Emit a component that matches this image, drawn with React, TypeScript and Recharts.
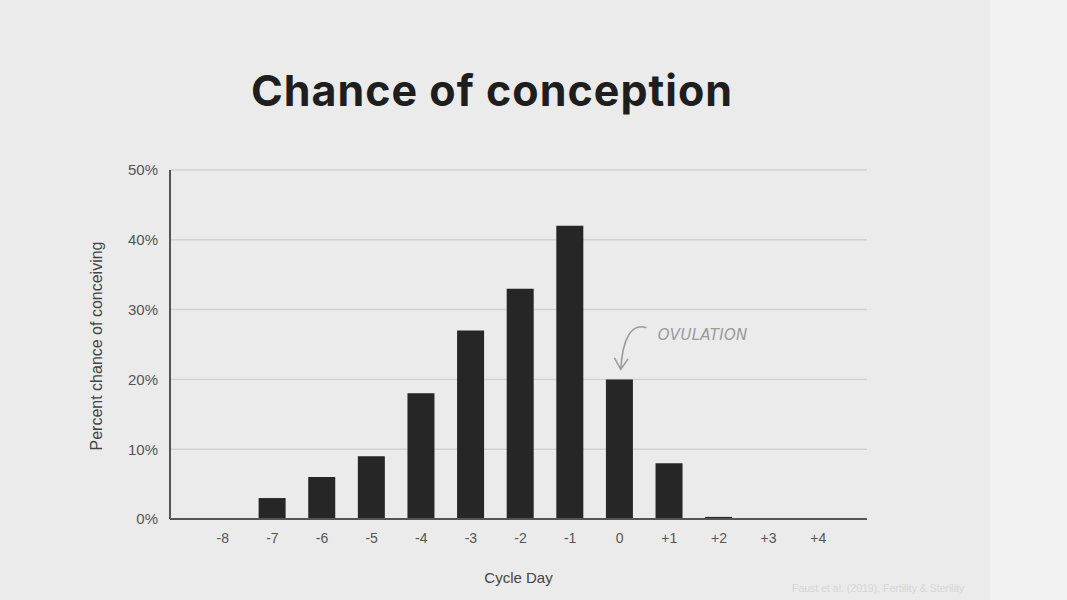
import React from "react";
import { BarChart, Bar, XAxis, YAxis, CartesianGrid, ReferenceDot } from "recharts";

const cycleDays = ["-8", "-7", "-6", "-5", "-4", "-3", "-2", "-1", "0", "+1", "+2", "+3", "+4"];
const chanceValues = [0, 3, 6, 9, 18, 27, 33, 42, 20, 8, 0.3, 0, 0];
const yTicks = [0, 10, 20, 30, 40, 50];
const ovulationDay = "0";
const ovulationValue = 20;

const data = cycleDays.map((d, i) => ({ day: d, value: chanceValues[i] }));

const OvulationNote = (props: any) => {
  const { cx, cy } = props;
  if (cx == null || cy == null) return null;
  const sx = cx + 26, sy = cy - 52;
  const ex = cx + 1, ey = cy - 10;
  return (
    <g>
      <path
        d={`M ${sx} ${sy} C ${sx - 14} ${sy - 4}, ${ex + 2} ${sy + 10}, ${ex} ${ey}`}
        fill="none" stroke="#9a9a9a" strokeWidth={1.6} strokeLinecap="round"
      />
      <path
        d={`M ${ex - 6} ${ey - 11} L ${ex} ${ey} L ${ex + 7} ${ey - 10}`}
        fill="none" stroke="#9a9a9a" strokeWidth={1.6} strokeLinecap="round" strokeLinejoin="round"
      />
      <text x={cx + 38} y={cy - 39} fill="#9a9a9a" fontSize={15}
        fontFamily="'DejaVu Sans', sans-serif" fontStyle="italic" letterSpacing={0.3}
        style={{ fontWeight: 300 }}>
        OVULATION
      </text>
    </g>
  );
};

export default function App() {
  return (
    <div style={{ position: "absolute", left: 0, top: 0, width: 1067, height: 600,
      background: "linear-gradient(to right, #ebebeb 0px, #ebebeb 990px, #f2f2f2 990px)",
      fontFamily: "'Liberation Sans', Arial, sans-serif" }}>
      <div style={{ position: "absolute", left: 0, width: 984, top: 64, textAlign: "center",
        fontFamily: "Inter, sans-serif", fontWeight: 700, fontSize: 43, color: "#1e1e1e",
        letterSpacing: 1 }}>
        Chance of conception
      </div>
      <BarChart width={1067} height={600} data={data}
        margin={{ top: 170, right: 200, bottom: 51, left: 110 }}>
        <CartesianGrid vertical={false} stroke="#d2d2d2" strokeWidth={1.5} />
        <XAxis dataKey="day" padding={{ left: 28, right: 24 }} tickLine={false}
          axisLine={{ stroke: "#555", strokeWidth: 2 }} height={30}
          tick={{ fill: "#555", fontSize: 14 }} tickMargin={8} interval={0}
          label={{ value: "Cycle Day", position: "insideBottom", offset: -34, fill: "#444", fontSize: 15 }} />
        <YAxis domain={[0, 50]} ticks={yTicks} width={60} tickLine={false}
          axisLine={{ stroke: "#555", strokeWidth: 2 }}
          tickFormatter={(v: number) => `${v}%`} tick={{ fill: "#555", fontSize: 15 }} tickMargin={6}
          label={{ value: "Percent chance of conceiving", angle: -90, position: "insideLeft",
            offset: -14, dy: 106, fill: "#444", fontSize: 16 } as any} />
        <Bar dataKey="value" fill="#262626" barSize={27} isAnimationActive={false} />
        <ReferenceDot x={ovulationDay} y={ovulationValue} r={0} shape={OvulationNote} />
      </BarChart>
      <div style={{ position: "absolute", left: 792, top: 582, fontSize: 10.5, color: "#d6d6d6" }}>
        Faust et al. (2019), Fertility &amp; Sterility
      </div>
    </div>
  );
}
